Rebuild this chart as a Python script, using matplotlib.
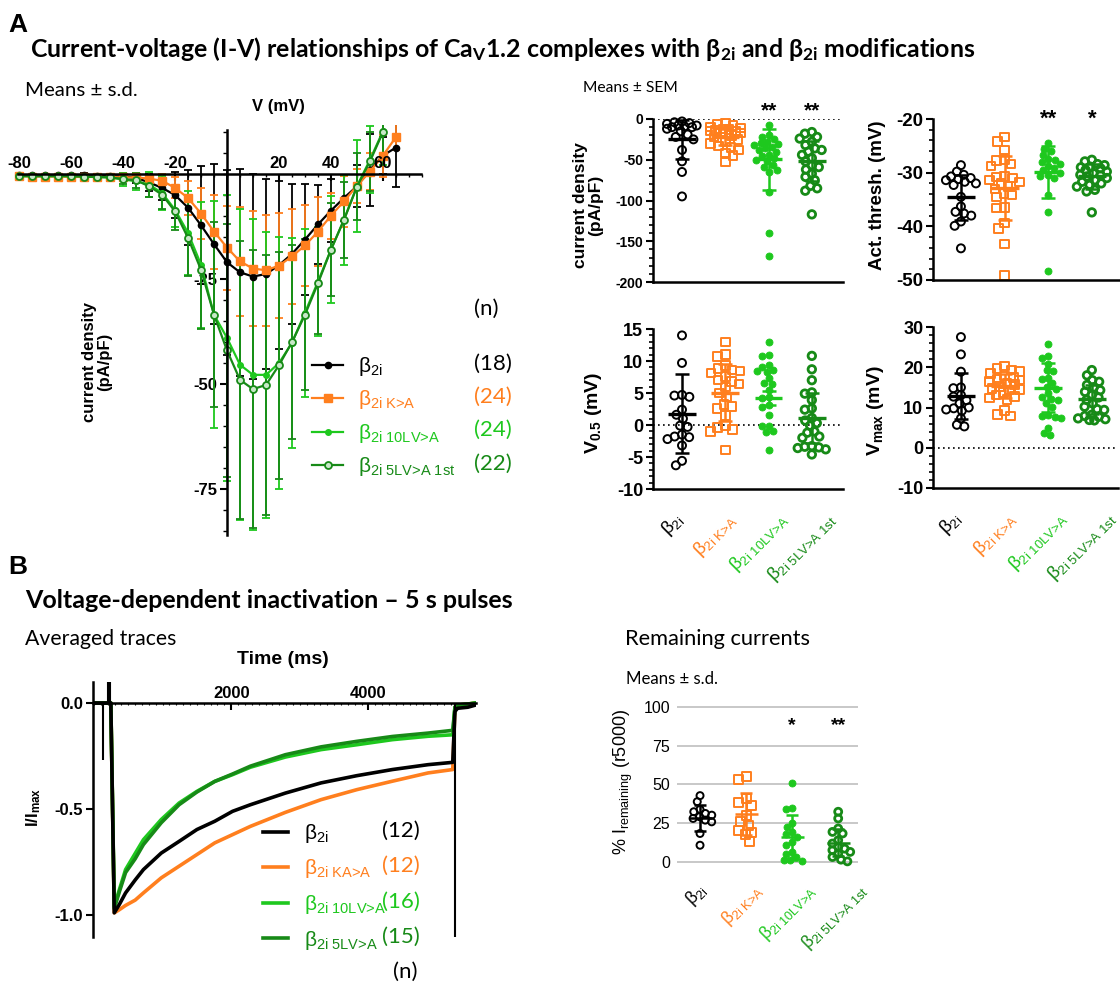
import numpy as np
import matplotlib
matplotlib.use('Agg')
import matplotlib.pyplot as plt
from matplotlib.ticker import MultipleLocator, FixedLocator, FormatStrFormatter
from matplotlib.lines import Line2D
from matplotlib.transforms import ScaledTranslation

# ------------------------------------------------------------------ data
GROUP_LABELS = [r'β$_{\text{2i}}$', r'β$_{\text{2i K>A}}$', r'β$_{\text{2i 10LV>A}}$',
                r'β$_{\text{2i 5LV>A 1st}}$']
IV_N = ['(18)', '(24)', '(24)', '(22)']

V_MV = [-80, -75, -70, -65, -60, -55, -50, -45, -40, -35, -30, -25, -20, -15, -10,
        -5, 0, 5, 10, 15, 20, 25, 30, 35, 40, 45, 50, 55, 60, 65]
IV_B2I = [-0.3, -0.3, -0.3, -0.3, -0.3, -0.3, -0.4, -0.5, -0.6, -0.9, -2.0, -3.3, -5.0, -8.0, -12.2,
          -16.7, -21.0, -23.4, -24.4, -23.8, -21.7, -19.0, -15.6, -12.0, -8.7, -5.7, -2.9, 1.0, 4.4, 6.3]
IV_B2I_SD = [0.4, 0.4, 0.4, 0.4, 0.4, 0.5, 0.5, 0.6, 0.8, 1.2, 2.0, 3.0, 5.5, 9.0, 14.0,
             19.0, 22.0, 24.6, 24.4, 22.6, 20.0, 16.7, 13.3, 9.5, 7.5, 5.5, 5.0, 8.5, 4.5, 9.5]
IV_KA = [-0.5, -0.6, -0.6, -0.6, -0.7, -0.7, -0.7, -0.7, -0.8, -0.8, -1.1, -1.6, -3.3, -5.7, -9.4,
         -13.7, -17.5, -20.8, -22.5, -22.9, -21.8, -19.6, -17.0, -13.7, -9.9, -6.5, -2.8, 0.6, 4.4, 8.8]
IV_KA_SD = [0.3, 0.3, 0.3, 0.3, 0.3, 0.3, 0.3, 0.4, 0.5, 0.6, 0.8, 1.5, 2.5, 4.0, 6.0,
            8.8, 10.0, 13.0, 13.6, 13.2, 12.5, 11.3, 9.7, 8.2, 5.5, 6.0, 4.0, 4.5, 5.0, 3.0]
IV_10LV = [-0.5, -0.5, -0.5, -0.5, -0.5, -0.6, -0.7, -0.8, -1.3, -1.7, -2.5, -4.5, -8.5, -14.0, -21.6,
           -33.5, -39.0, -45.4, -47.8, -47.8, -45.0, -40.2, -33.0, -25.6, -18.0, -10.9, -2.9, 3.4, 10.2, np.nan]
IV_10LV_SD = [0.3, 0.3, 0.3, 0.3, 0.3, 0.4, 0.5, 0.6, 1.5, 2.0, 3.0, 4.0, 4.0, 10.0, 15.0,
              27.0, 34.0, 37.0, 37.0, 34.0, 30.0, 25.0, 20.0, 13.0, 12.8, 10.7, 11.0, 8.0, 8.0, np.nan]
IV_5LV = [-0.5, -0.5, -0.5, -0.5, -0.5, -0.6, -0.7, -0.8, -1.2, -1.5, -2.9, -4.9, -8.9, -15.2, -22.8,
          -33.5, -42.0, -49.0, -51.2, -50.2, -45.5, -40.0, -33.5, -26.0, -18.0, -10.9, -3.0, 3.0, 10.0, np.nan]
IV_5LV_SD = [0.3, 0.3, 0.3, 0.3, 0.3, 0.4, 0.5, 0.6, 1.2, 1.8, 2.5, 3.5, 4.5, 9.0, 14.0,
             22.0, 30.0, 33.0, 33.0, 31.0, 27.0, 23.0, 18.0, 12.0, 11.0, 9.0, 8.0, 7.0, 6.0, np.nan]
IV_XTICKS = [-80, -60, -40, -20, 20, 40, 60]
IV_YTICKS = [-75, -50, -25]

# current density (pA/pF)
CD_B2I = [-3, -4, -5, -6, -8, -8, -9, -10, -10, -12, -15, -19, -22, -25, -38, -52, -65, -95]
CD_KA = [-5, -7, -8, -10, -11, -12, -13, -14, -15, -15, -16, -17, -18, -20, -22, -25, -28, -30,
         -33, -35, -38, -42, -45, -53]
CD_10LV = [-7, -20, -22, -25, -28, -30, -31, -32, -34, -36, -38, -40, -44, -46, -48, -50, -52,
           -57, -59, -63, -65, -89, -140, -168]
CD_5LV = [-16, -18, -22, -24, -28, -32, -36, -38, -40, -44, -48, -52, -57, -59, -62, -67, -71,
          -75, -82, -85, -88, -117]
CD_MEAN = [-25, -22.5, -49.6, -51.6]
CD_ERR = [24, 10, 37.5, 25]

# activation threshold (mV)
THR_B2I = [-28.6, -29.8, -30.4, -30.7, -31.0, -31.2, -31.4, -31.7, -32.0, -32.3, -34.5, -36.3,
           -37.3, -37.6, -38.0, -39.1, -39.9, -44.1]
THR_KA = [-23.4, -24.2, -25.8, -27.5, -27.7, -28.4, -28.8, -30.7, -30.8, -31.0, -31.4, -31.7, -32.0,
          -32.6, -33.0, -33.9, -34.2, -34.5, -36.5, -36.6, -39.4, -40.4, -43.3, -49.2]
THR_10LV = [-24.5, -25.5, -25.9, -26.7, -27.5, -27.6, -28.1, -28.4, -28.8, -29.2, -29.5, -30.0,
            -30.4, -30.6, -31.0, -34.2, -37.3, -48.4]
THR_5LV = [-27.6, -27.9, -28.4, -28.6, -28.9, -29.0, -29.2, -29.5, -29.8, -30.1, -30.4, -30.5, -30.7,
           -31.0, -31.4, -31.7, -32.0, -32.3, -32.6, -33.2, -33.5, -37.4]
THR_MEAN = [-34.6, -32.9, -29.9, -30.7]
THR_ERR = [4.2, 6.0, 4.8, 2.3]

# V0.5 (mV)
V05_B2I = [14.0, 9.7, 4.7, 4.6, 4.4, 2.4, 1.6, 1.0, -0.1, -0.3, -1.5, -1.8, -1.9, -2.2, -3.2, -5.6, -6.3]
V05_KA = [13.0, 11.0, 10.7, 9.3, 8.8, 8.6, 8.4, 8.1, 7.6, 7.0, 6.8, 6.4, 5.9, 5.0, 4.4, 3.2, 2.9,
          2.6, 1.5, -0.1, -0.4, -0.7, -1.0, -3.9]
V05_10LV = [12.9, 11.0, 10.8, 9.3, 9.1, 8.6, 8.4, 8.3, 7.3, 6.6, 6.4, 5.5, 4.4, 4.2, 3.2, 2.8,
            1.6, -0.1, -0.2, -0.9, -1.1, -3.9]
V05_5LV = [10.8, 8.7, 7.0, 5.1, 4.9, 3.9, 2.6, 2.4, 1.1, 0.7, 0.3, -0.1, -1.0, -1.2, -1.8, -2.0,
           -3.3, -3.4, -3.5, -3.6, -3.8, -4.6]
V05_MEAN = [1.75, 5.07, 4.2, 1.05]
V05_ERR = [6.2, 4.5, 1.1, 3.9]

# Vmax (mV)
VMAX_B2I = [27.5, 23.2, 18.9, 15.0, 14.8, 13.1, 12.7, 11.8, 11.0, 10.0, 9.8, 9.5, 9.2, 7.3, 5.7, 5.3]
VMAX_KA = [20.3, 19.7, 19.3, 18.9, 18.4, 17.8, 17.4, 17.0, 16.8, 16.5, 16.1, 15.7, 15.2, 14.7,
           14.5, 14.3, 13.7, 13.1, 12.7, 12.3, 12.0, 9.2, 8.2, 7.9]
VMAX_10LV = [25.9, 22.8, 22.4, 20.9, 19.3, 19.1, 17.4, 17.1, 16.1, 15.2, 14.7, 13.5, 12.7, 12.0,
             11.8, 11.0, 10.2, 8.2, 7.9, 7.7, 7.5, 4.8, 3.6, 3.2]
VMAX_5LV = [19.3, 18.0, 16.8, 16.4, 15.6, 15.0, 14.3, 13.9, 13.1, 12.5, 11.9, 11.0, 10.2, 9.6,
            9.4, 8.2, 7.9, 7.7, 7.3, 7.1, 6.9, 6.8]
VMAX_MEAN = [12.8, 15.3, 14.9, 12.0]
VMAX_ERR = [5.7, 3.0, 6.1, 3.5]

# averaged inactivation traces (I/Imax) vs time (ms)
TRACE_N = ['(12)', '(12)', '(16)', '(15)']
TRACE_LABELS = [r'β$_{\text{2i}}$', r'β$_{\text{2i KA>A}}$', r'β$_{\text{2i 10LV>A}}$',
                r'β$_{\text{2i 5LV>A}}$']
PRE_T = [0, 245]
PRE_V = [0.0, 0.0]
TRACE_T = [295, 370, 460, 600, 720, 980, 1240, 1500, 1760, 2020, 2280, 2790, 3310, 3830, 4350, 4870, 5230]
TR_B2I = [-0.99, -0.95, -0.896, -0.835, -0.786, -0.708, -0.653, -0.597, -0.558, -0.511, -0.48,
          -0.425, -0.377, -0.343, -0.314, -0.291, -0.28]
TR_KA = [-0.99, -0.975, -0.955, -0.93, -0.896, -0.825, -0.77, -0.715, -0.66, -0.621, -0.582,
         -0.516, -0.456, -0.409, -0.369, -0.33, -0.314]
TR_10LV = [-0.96, -0.88, -0.786, -0.71, -0.645, -0.55, -0.472, -0.417, -0.37, -0.338, -0.303,
           -0.255, -0.22, -0.197, -0.173, -0.157, -0.15]
TR_5LV = [-0.97, -0.89, -0.80, -0.735, -0.668, -0.565, -0.48, -0.42, -0.37, -0.335, -0.298,
          -0.244, -0.207, -0.181, -0.158, -0.142, -0.129]
POST_T = [5262, 5300, 5450, 5560]
POST_B2I = [-0.04, -0.025, -0.02, -0.01]
POST_OTHER = [-0.02, -0.01, -0.005, 0.0]
TRANS_T = [125, 200, 235, 5258]
TRANS_LO = [-0.27, 0.0, 0.0, -1.104]
TRANS_HI = [0.0, 0.099, 0.099, 0.0]

# remaining current (%)
REM_B2I = [42.8, 38.9, 33.9, 32.4, 31.3, 30.2, 29.2, 28.1, 27.0, 25.9, 18.4, 10.8]
REM_KA = [55.1, 52.9, 41.0, 38.2, 36.7, 30.0, 25.9, 23.8, 20.5, 18.8, 17.9, 13.0]
REM_10LV = [51.2, 34.6, 33.9, 25.3, 22.7, 19.4, 17.9, 16.2, 13.0, 10.8, 6.5, 5.4, 3.2, 1.5, 1.1, 0.6]
REM_5LV = [32.4, 28.1, 21.6, 19.4, 18.4, 14.0, 11.9, 9.7, 8.6, 7.6, 6.5, 5.4, 3.2, 1.5, 0.4]
REM_MEAN = [28.5, 30.9, 15.8, 12.5]
REM_ERR = [8.5, 13.5, 14.5, 8.6]

# ------------------------------------------------------------------ style
W, H = 1120, 985
plt.rcParams['font.family'] = ['Liberation Sans', 'DejaVu Sans']
plt.rcParams['mathtext.fontset'] = 'custom'
plt.rcParams['mathtext.rm'] = 'Liberation Sans'
plt.rcParams['mathtext.it'] = 'Liberation Sans:italic'
plt.rcParams['mathtext.bf'] = 'Liberation Sans:bold'
plt.rcParams['mathtext.default'] = 'regular'
plt.rcParams['axes.unicode_minus'] = False
ARIAL = ['Liberation Sans', 'DejaVu Sans']
CALIBRI = ['Lato', 'DejaVu Sans']
BLACK, ORANGE, LGREEN, DGREEN = '#000000', '#FF7F1E', '#1EC81E', '#178A17'
COLORS = [BLACK, ORANGE, LGREEN, DGREEN]

fig = plt.figure(figsize=(W / 100, H / 100), dpi=100)
renderer = fig.canvas.get_renderer()


def rect(l, t, r, b):
    return [l / W, 1 - b / H, (r - l) / W, (b - t) / H]


def ftext(x, y, s, **kw):
    return fig.text(x / W, 1 - y / H, s, **kw)


def fit(t, width):
    bb = t.get_window_extent(renderer)
    t.set_fontsize(t.get_fontsize() * width / bb.width)


def px_off(ax, dx, dy):
    return ax.transData + ScaledTranslation(dx / 100, dy / 100, fig.dpi_scale_trans)


# ------------------------------------------------------------------ headings
ftext(8, 25, 'A', fontsize=19, fontweight='bold', va='center', family=ARIAL)
t = ftext(30, 49, r'Current-voltage (I-V) relationships of Ca$_{V}$1.2 complexes with β$_{2i}$ and β$_{2i}$ modifications',
          fontsize=16, fontweight='bold', va='center', family=CALIBRI)
fit(t, 945)
t = ftext(25, 91, 'Means ± s.d.', fontsize=12, va='center', family=CALIBRI)
fit(t, 112)
t = ftext(583, 88, 'Means ± SEM', fontsize=11, va='center', family=CALIBRI)
fit(t, 95)
ftext(8, 567, 'B', fontsize=19, fontweight='bold', va='center', family=ARIAL)
t = ftext(25, 600, 'Voltage-dependent inactivation – 5 s pulses', fontsize=16, fontweight='bold',
          va='center', family=CALIBRI)
fit(t, 488)
t = ftext(25, 639, 'Averaged traces', fontsize=13, va='center', family=CALIBRI)
fit(t, 151)
t = ftext(625, 639, 'Remaining currents', fontsize=13, va='center', family=CALIBRI)
fit(t, 185)
t = ftext(626, 679, 'Means ± s.d.', fontsize=11, va='center', family=CALIBRI)
fit(t, 92)

# ------------------------------------------------------------------ I-V panel
ax = fig.add_axes(rect(10, 125, 430, 545))
ax.set_xlim(-83.5, 78.1)
ax.set_ylim(-88.3, 11.67)
ax.patch.set_visible(False)
for s in ['top', 'right']:
    ax.spines[s].set_visible(False)
ax.spines['left'].set_position(('data', 0))
ax.spines['bottom'].set_position(('data', 0))
ax.spines['left'].set_bounds(-86, 10.4)
ax.spines['bottom'].set_bounds(-80.5, 74.5)
for s in ['left', 'bottom']:
    ax.spines[s].set_linewidth(1.8)
ax.xaxis.set_major_locator(FixedLocator(IV_XTICKS))
ax.xaxis.set_minor_locator(MultipleLocator(5))
ax.tick_params(axis='x', which='major', direction='out', length=5, width=1.5, labelbottom=False)
ax.tick_params(axis='x', which='minor', direction='out', length=2.5, width=1)
ax.yaxis.set_major_locator(FixedLocator(IV_YTICKS))
ax.yaxis.set_minor_locator(MultipleLocator(5))
ax.tick_params(axis='y', which='major', direction='out', length=5, width=1.5, labelsize=12, pad=2)
ax.tick_params(axis='y', which='minor', direction='out', length=3, width=1)
for lab in ax.get_yticklabels():
    lab.set_fontweight('bold')
for v in IV_XTICKS:
    ax.text(v, 0, str(v), transform=px_off(ax, 0, 11), ha='center', va='center',
            fontsize=12, fontweight='bold')

iv_means = [IV_B2I, IV_KA, IV_10LV, IV_5LV]
iv_sds = [IV_B2I_SD, IV_KA_SD, IV_10LV_SD, IV_5LV_SD]
iv_styles = [dict(marker='o', ms=4.5, mfc=BLACK),
             dict(marker='s', ms=5.5, mfc=ORANGE),
             dict(marker='o', ms=4, mfc=LGREEN),
             dict(marker='o', ms=5, mfc='#c8e8c8', mew=1.3)]
handles = []
for m, sd, c, st in zip(iv_means, iv_sds, COLORS, iv_styles):
    ax.errorbar(V_MV, m, yerr=sd, color=c, lw=1.6, elinewidth=1.3, capsize=3, capthick=1.3,
                mec=c, **st)
    handles.append(Line2D([], [], color=c, lw=1.6, mec=c, **st))

ftext(227 + 51, 107, 'V (mV)', fontsize=12, fontweight='bold', ha='center', va='center')
ftext(97, 362, 'current density\n(pA/pF)', fontsize=12, fontweight='bold', rotation=90,
      ha='center', va='center', multialignment='center', linespacing=1.05)

leg = fig.legend(handles, GROUP_LABELS, loc='upper left', bbox_to_anchor=(312 / W, 1 - 355 / H),
                 frameon=False, prop=dict(family=ARIAL, size=15), handlelength=1.5,
                 handletextpad=0.7, labelspacing=0.5, borderpad=0, borderaxespad=0)
for tx, c in zip(leg.get_texts(), COLORS):
    tx.set_color(c)
fig.canvas.draw()
for tx, n, c in zip(leg.get_texts(), IV_N, COLORS):
    bb = tx.get_window_extent(renderer)
    yc = (bb.y0 + bb.y1) / 2 / H
    fig.text(512 / W, yc + 3 / H, n, color=c, fontsize=16, ha='right', va='center', family=CALIBRI)
ftext(486, 309, '(n)', fontsize=16, ha='center', va='center', family=CALIBRI)

# ------------------------------------------------------------------ dot panels
GRP_STYLE = [dict(marker='o', fc='none', ec=BLACK, lw=1.4, d=8.0),
             dict(marker='s', fc='none', ec=ORANGE, lw=1.4, d=8.5),
             dict(marker='o', fc=LGREEN, ec=LGREEN, lw=0.6, d=7.0),
             dict(marker='o', fc='none', ec=DGREEN, lw=2.0, d=7.5)]


def swarm(ax, xc, vals, sep, maxoff):
    """Beeswarm offsets (pixel based), spread limited to +-maxoff pixels."""
    tr = ax.transData
    ys = [tr.transform((xc, v))[1] for v in vals]
    ux = tr.transform((1, 0))[0] - tr.transform((0, 0))[0]
    order = np.argsort(ys)[::-1]
    placed = []
    offs = np.zeros(len(vals))
    for i in order:
        y = ys[i]
        near = [(px, py) for px, py in placed if abs(py - y) < sep]
        cands = [0.0]
        for px, py in near:
            dx = np.sqrt(max(sep * sep - (py - y) ** 2, 0.0))
            cands += [px + dx, px - dx]
        cands = [c for c in cands if abs(c) <= maxoff]
        cands.sort(key=lambda c: (abs(c), c))
        chosen = None
        for c in cands:
            if all((c - px) ** 2 + (y - py) ** 2 >= sep * sep - 1e-6 for px, py in near):
                chosen = c
                break
        if chosen is None:
            grid = np.linspace(-maxoff, maxoff, 25)
            chosen = max(grid, key=lambda c: min((c - px) ** 2 + (y - py) ** 2 for px, py in near))
        placed.append((chosen, y))
        offs[i] = chosen / ux
    return offs


def draw_dots(ax, data, means, errs, half=0.32, cap=5, sizes=None, mlw=2.4, maxoff=15):
    for k, (vals, m, e, st) in enumerate(zip(data, means, errs, GRP_STYLE)):
        x0 = k + 1
        d = st['d'] if sizes is None else sizes[k]
        offs = swarm(ax, x0, vals, d * 0.95, maxoff)
        ax.scatter(x0 + offs, vals, s=(d * 0.72) ** 2, marker=st['marker'], facecolors=st['fc'],
                   edgecolors=st['ec'], linewidths=st['lw'], zorder=2, clip_on=False)
        c = COLORS[k]
        ax.errorbar([x0], [m], yerr=[e], fmt='none', ecolor=c, elinewidth=1.8, capsize=cap,
                    capthick=1.8, zorder=3)
        ax.hlines(m, x0 - half, x0 + half, color=c, lw=mlw, zorder=3)


def dot_panel(r, data, means, errs, ylim, major, minor, xlim, tick_size):
    ax = fig.add_axes(rect(*r))
    ax.set_xlim(*xlim)
    ax.set_ylim(*ylim)
    ax.patch.set_visible(False)
    for s in ['top', 'right']:
        ax.spines[s].set_visible(False)
    for s in ['left', 'bottom']:
        ax.spines[s].set_linewidth(1.8)
    ax.set_xticks([])
    ax.yaxis.set_major_locator(MultipleLocator(major))
    ax.yaxis.set_minor_locator(MultipleLocator(minor))
    ax.tick_params(axis='y', which='major', direction='out', length=5, width=1.5,
                   labelsize=tick_size, pad=2)
    ax.tick_params(axis='y', which='minor', direction='out', length=3, width=1.2)
    for lab in ax.get_yticklabels():
        lab.set_fontweight('bold')
    draw_dots(ax, data, means, errs)
    return ax


def group_xlabels(ax, ybase, dx, dy, size):
    for k, (lab, c) in enumerate(zip(GROUP_LABELS, COLORS)):
        ax.text(k + 1, ybase, lab, color=c, rotation=45, ha='center', va='top',
                transform=px_off(ax, dx, dy), fontsize=size, family=ARIAL)


XL1 = (0.33, 4.72)
XL2 = (0.36, 4.60)

ax_cd = dot_panel((653, 119, 843, 282), [CD_B2I, CD_KA, CD_10LV, CD_5LV], CD_MEAN, CD_ERR,
                  (-200, 0), 50, 10, XL1, 10)
ax_cd.axhline(0, color='k', ls=(0, (1, 2)), lw=1.2, zorder=1)
for k, s in [(3, '**'), (4, '**')]:
    ax_cd.text(k, 10, s, ha='center', va='center', fontsize=15, fontweight='bold')
ftext(588, 205, 'current density\n(pA/pF)', fontsize=12.5, fontweight='bold', rotation=90,
      ha='center', va='center', multialignment='center', linespacing=1.05)

ax_th = dot_panel((933, 119, 1118, 280), [THR_B2I, THR_KA, THR_10LV, THR_5LV], THR_MEAN, THR_ERR,
                  (-50, -20), 10, 2, XL2, 13.5)
ax_th.spines['bottom'].set_bounds(XL2[0], XL2[1] + 0.2)
for k, s in [(3, '**'), (4, '*')]:
    ax_th.text(k, -20, s, ha='center', va='center', fontsize=16, fontweight='bold')
ftext(877, 195, 'Act. thresh. (mV)', fontsize=13.5, fontweight='bold', rotation=90,
      ha='center', va='center')

ax_v5 = dot_panel((653, 329, 843, 489), [V05_B2I, V05_KA, V05_10LV, V05_5LV], V05_MEAN, V05_ERR,
                  (-10, 15), 5, 1, XL1, 13)
ax_v5.axhline(0, color='k', ls=(0, (1, 2)), lw=1.2, zorder=1)
group_xlabels(ax_v5, -10, -10, -20, 13.5)
ftext(593, 413, r'V$_{0.5}$ (mV)', fontsize=14, fontweight='bold', rotation=90,
      ha='center', va='center')

ax_vm = dot_panel((933, 327, 1118, 488), [VMAX_B2I, VMAX_KA, VMAX_10LV, VMAX_5LV], VMAX_MEAN,
                  VMAX_ERR, (-10, 30), 10, 2, XL2, 13)
ax_vm.axhline(0, color='k', ls=(0, (1, 2)), lw=1.2, zorder=1)
group_xlabels(ax_vm, -10, -10, -20, 13.5)
ftext(875, 411, r'V$_{max}$ (mV)', fontsize=14, fontweight='bold', rotation=90,
      ha='center', va='center')

# ------------------------------------------------------------------ traces panel
axb = fig.add_axes(rect(93, 682, 476, 937))
axb.set_xlim(-15, 5569)
axb.set_ylim(-1.104, 0.099)
axb.patch.set_visible(False)
for s in ['top', 'right']:
    axb.spines[s].set_visible(False)
axb.spines['bottom'].set_position(('data', 0))
for s in ['left', 'bottom']:
    axb.spines[s].set_linewidth(1.8)
axb.xaxis.set_major_locator(FixedLocator([2000, 4000]))
axb.xaxis.set_minor_locator(MultipleLocator(100))
axb.tick_params(axis='x', which='major', direction='out', length=5, width=1.5, labelbottom=False)
axb.tick_params(axis='x', which='minor', direction='out', length=1.5, width=0.8)
axb.yaxis.set_major_locator(FixedLocator([-1.0, -0.5, 0.0]))
axb.yaxis.set_major_formatter(FormatStrFormatter('%.1f'))
axb.tick_params(axis='y', which='major', direction='out', length=5, width=1.5, labelsize=12, pad=2)
for lab in axb.get_yticklabels():
    lab.set_fontweight('bold')
for v in [2000, 4000]:
    axb.text(v, 0, str(v), transform=px_off(axb, 0, 9), ha='center', va='center',
             fontsize=12, fontweight='bold')

series = [(TR_KA, POST_OTHER, ORANGE), (TR_10LV, POST_OTHER, LGREEN),
          (TR_5LV, POST_OTHER, DGREEN), (TR_B2I, POST_B2I, BLACK)]
for vals, post, c in series:
    axb.plot(PRE_T + TRACE_T + POST_T, PRE_V + vals + post, color=c, lw=2.6,
             solid_joinstyle='round')
axb.vlines(TRANS_T, TRANS_LO, TRANS_HI, color=BLACK, lw=1.5)

ftext(283, 660, 'Time (ms)', fontsize=14, fontweight='bold', ha='center', va='center')
ftext(34, 807, r'I/I$_{max}$', fontsize=12, fontweight='bold', rotation=90, ha='center', va='center')

tr_handles = [Line2D([], [], color=c, lw=2.6) for c in COLORS]
leg2 = fig.legend(tr_handles, TRACE_LABELS, loc='upper left', bbox_to_anchor=(263 / W, 1 - 822 / H),
                  frameon=False, prop=dict(family=ARIAL, size=15), handlelength=1.2,
                  handletextpad=0.75, labelspacing=0.6, borderpad=0, borderaxespad=0)
for tx, c in zip(leg2.get_texts(), COLORS):
    tx.set_color(c)
fig.canvas.draw()
for tx, n, c in zip(leg2.get_texts(), TRACE_N, COLORS):
    bb = tx.get_window_extent(renderer)
    yc = (bb.y0 + bb.y1) / 2 / H
    fig.text(420 / W, yc + 3 / H, n, color=c, fontsize=16, ha='right', va='center', family=CALIBRI)
ftext(405, 972, '(n)', fontsize=16, ha='center', va='center', family=CALIBRI)

# ------------------------------------------------------------------ remaining current panel
axr = fig.add_axes(rect(677, 700, 858, 875))
axr.set_xlim(0.5, 4.43)
axr.set_ylim(-8.4, 104.5)
axr.patch.set_visible(False)
for s in axr.spines.values():
    s.set_visible(False)
axr.set_xticks([])
axr.yaxis.set_major_locator(MultipleLocator(25))
axr.tick_params(axis='y', length=0, labelsize=11.5, pad=5)
axr.yaxis.grid(True, color='#c4c4c4', lw=1.3)
axr.set_axisbelow(True)
draw_dots(axr, [REM_B2I, REM_KA, REM_10LV, REM_5LV], REM_MEAN, REM_ERR, half=0.25, cap=4,
          sizes=[7.0, 9.0, 7.0, 7.0], mlw=1.8, maxoff=12)
for k, s in [(3, '*'), (4, '**')]:
    axr.text(k, 88, s, ha='center', va='center', fontsize=14, fontweight='bold')
group_xlabels(axr, 0, -4, -18, 13)
ftext(623, 782, r'% I$_{remaining}$ (r5000)', fontsize=13, rotation=90, ha='center', va='center')

fig.savefig('out.png', dpi=100)
